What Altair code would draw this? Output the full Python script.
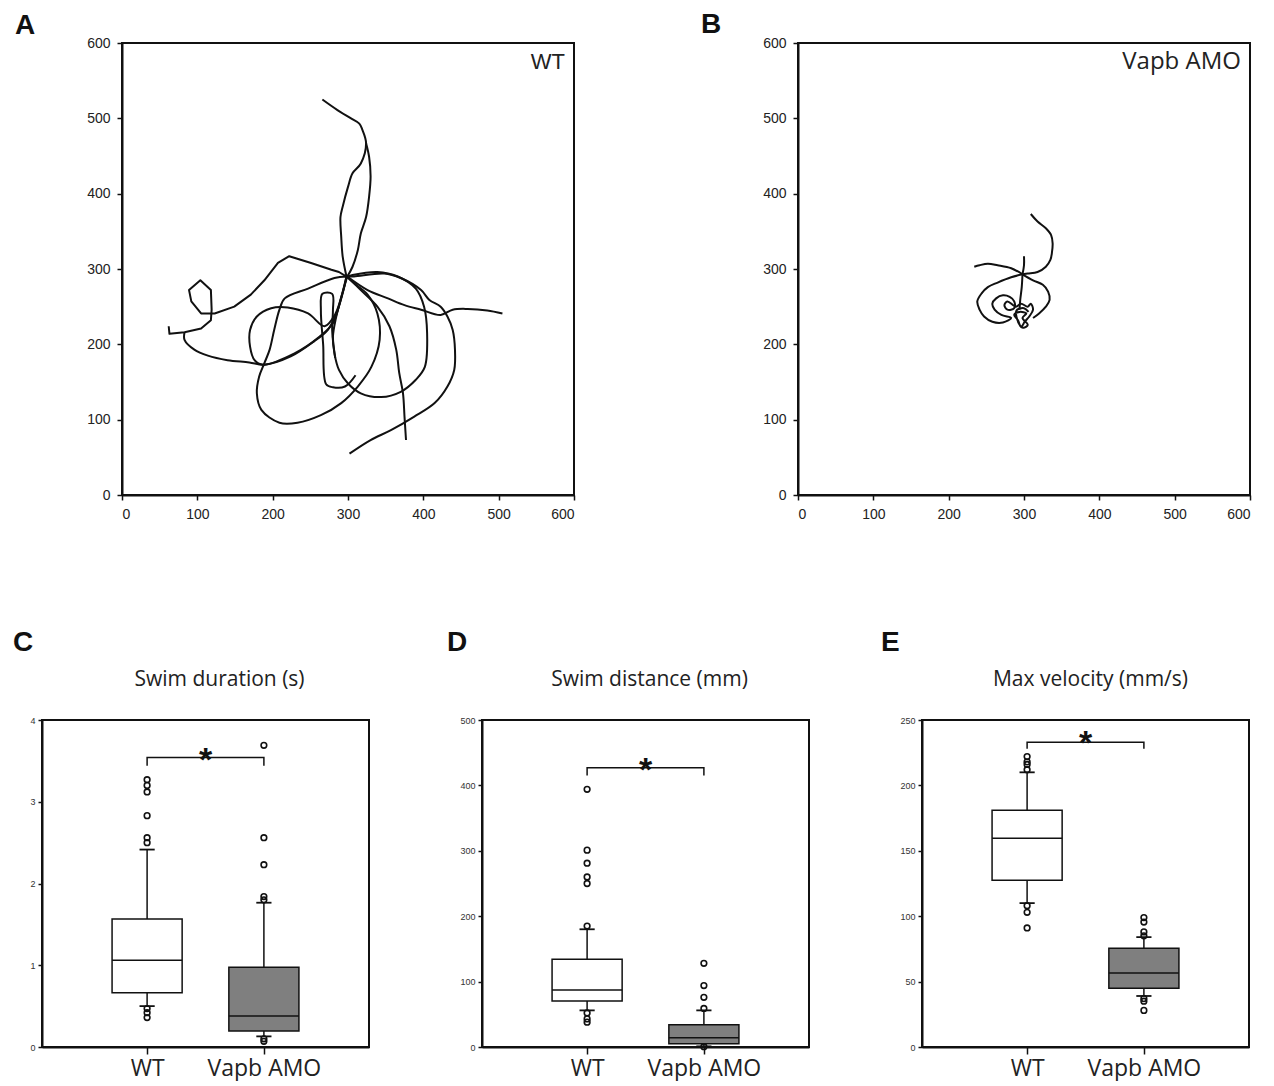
import altair as alt
import pandas as pd

# ---------------- Panel A : WT swim tracks (arena units) ----------------
a_north_left = [(266, 525), (286, 511), (304, 500), (315, 493), (319, 485), (324, 467), (317, 440),
                (306, 427), (300, 409), (293, 383), (290, 369), (291, 343), (293, 316), (298, 290)]
a_north_right = [(324, 467), (328, 449), (330, 423), (328, 396), (324, 369), (317, 347), (313, 325),
                 (306, 303), (299, 290)]
a_west_hex = [(298, 290), (288, 296), (278, 299), (251, 308), (222, 317), (207, 308), (189, 285),
              (171, 266), (149, 250), (123, 241), (105, 241), (92, 257), (89, 272), (104, 285),
              (118, 272), (119, 246), (118, 232), (105, 221), (83, 216), (63, 214), (62, 224)]
a_southwest = [(83, 216), (83, 206), (96, 193), (114, 185), (140, 179), (169, 176), (189, 173),
               (224, 184), (255, 204), (273, 219), (284, 239), (293, 268), (298, 290)]
a_small_loop = [(298, 290), (292, 266), (283, 240), (269, 224), (247, 241), (220, 249), (198, 248),
                (179, 237), (170, 219), (170, 197), (176, 179), (187, 173), (229, 188), (262, 210),
                (280, 228), (289, 255), (298, 290)]
a_big_lower_loop = [(298, 290), (282, 288), (247, 274), (216, 261), (209, 246), (202, 219), (196, 193),
                    (189, 175), (182, 157), (179, 135), (185, 113), (209, 96), (233, 96), (264, 106),
                    (291, 122), (313, 144), (331, 170), (342, 206), (339, 241), (326, 266), (308, 281),
                    (298, 290)]
a_narrow_loop = [(310, 159), (296, 144), (280, 143), (271, 147), (267, 200), (264, 245), (266, 267),
                 (279, 267), (280, 245), (279, 218), (283, 182)]
a_right_mid = [(299, 290), (306, 292), (339, 296), (366, 290), (390, 274), (401, 250), (405, 215),
               (402, 170), (390, 153), (370, 137), (344, 130), (317, 135), (300, 148), (288, 166),
               (282, 188), (280, 210), (284, 235), (291, 262), (299, 290)]
a_right_outer = [(299, 290), (308, 290), (348, 294), (370, 288), (397, 272), (408, 259), (423, 250),
                 (432, 237), (439, 219), (442, 193), (441, 166), (432, 144), (415, 122), (388, 104),
                 (357, 86), (330, 73), (302, 55)]
a_east = [(299, 290), (326, 272), (353, 261), (375, 252), (397, 246), (423, 239), (439, 246),
          (459, 247), (485, 245), (505, 241)]
a_south = [(299, 290), (317, 272), (339, 250), (355, 224), (364, 193), (368, 162), (373, 135),
           (375, 104), (377, 73)]

a_smooth = {"north_left": a_north_left, "north_right": a_north_right, "southwest": a_southwest,
            "small_loop": a_small_loop, "big_lower_loop": a_big_lower_loop,
            "narrow_loop": a_narrow_loop, "right_mid": a_right_mid, "right_outer": a_right_outer,
            "east": a_east, "south": a_south}
a_angular = {"west_hex": a_west_hex}

# ---------------- Panel B : Vapb AMO swim tracks ----------------
b_top = [(309, 373), (318, 363), (329, 354), (336, 345), (338, 334), (337, 321), (335, 312),
         (329, 303), (318, 296), (305, 294), (298, 293)]
b_left = [(298, 293), (283, 301), (265, 305), (252, 307), (241, 305), (234, 303)]
b_stub = [(298, 293), (300, 305), (300, 317)]
b_spiral = [(298, 293), (283, 289), (265, 282), (252, 276), (244, 268), (238, 257), (241, 246),
            (247, 237), (258, 230), (272, 229), (283, 235), (270, 239), (261, 246), (258, 254),
            (263, 261), (272, 265), (281, 263), (287, 257), (287, 248), (278, 246), (274, 252),
            (278, 257), (289, 250), (296, 254), (305, 250), (309, 254), (312, 246), (307, 237),
            (301, 230), (296, 223), (292, 232), (287, 239), (294, 243), (303, 241), (298, 235),
            (305, 226), (299, 222), (293, 228), (290, 245), (300, 248), (306, 243)]
b_right = [(298, 293), (312, 285), (325, 279), (332, 270), (334, 259), (329, 250), (320, 241),
           (312, 235)]
b_down = [(298, 293), (297, 276), (295, 259), (294, 246)]
b_tracks = {"top": b_top, "left": b_left, "stub": b_stub, "spiral": b_spiral,
            "right": b_right, "down": b_down}

# ---------------- Panels C-E : box plot summaries ----------------
groups = ["WT", "Vapb AMO"]
group_pos = [1, 2]
group_fill = ["white", "#7f7f7f"]

dur_lower = [0.50, 0.13]
dur_q1 = [0.665, 0.195]
dur_median = [1.06, 0.38]
dur_q3 = [1.565, 0.975]
dur_upper = [2.415, 1.765]
dur_out_wt = [2.50, 2.56, 2.83, 3.12, 3.20, 3.27, 0.47, 0.42, 0.36]
dur_out_amo = [1.80, 1.84, 2.23, 2.56, 3.69, 0.10, 0.07]
dur_bracket = [3.44, 3.54]
dur_star = 3.62

dist_lower = [56, 1]
dist_q1 = [70.5, 5]
dist_median = [87, 14]
dist_q3 = [134, 34]
dist_upper = [180, 56]
dist_out_wt = [185, 250, 260, 281, 301, 394, 52, 43, 38]
dist_out_amo = [59, 76, 94, 128, 0.5]
dist_bracket = [415, 427]
dist_star = 438

vel_lower = [110, 39]
vel_q1 = [127.5, 45]
vel_median = [159.5, 56.5]
vel_q3 = [181, 75.5]
vel_upper = [210, 84]
vel_out_wt = [212, 216, 218, 222, 108, 103, 91]
vel_out_amo = [85, 88, 95.5, 99, 37, 35, 28]
vel_bracket = [228, 233]
vel_star = 239.5

INK = "#111111"
HUM = "Open Sans"
ARIAL = "Liberation Sans"
BOX_W = 327
BOX_H = 327


def tracks_df(strokes):
    rows = []
    for name, pts in strokes.items():
        for i, (x, y) in enumerate(pts):
            rows.append({"seg": name, "i": i, "x": x, "y": y})
    return pd.DataFrame(rows)


def letter_layer(letter, dx, dy):
    return alt.Chart(pd.DataFrame({"t": [letter]})).mark_text(
        align="left", baseline="alphabetic", font=ARIAL, fontWeight="bold", fontSize=28, color=INK
    ).encode(x=alt.value(dx), y=alt.value(dy), text="t:N")


def track_panel(smooth, angular, label, label_font, label_size, letter, ldx, ldy):
    sx = alt.Scale(domain=[0, 600], nice=False, zero=False)
    sy = alt.Scale(domain=[0, 600], nice=False, zero=False)
    ax = alt.Axis(values=list(range(0, 601, 100)), tickSize=5, labelFontSize=14, labelPadding=7,
                  grid=False, title=None, labelFont=ARIAL, labelColor="#222")
    ay = alt.Axis(values=list(range(0, 601, 100)), tickSize=5, labelFontSize=14, labelPadding=7,
                  grid=False, title=None, labelFont=ARIAL, labelColor="#222")
    layers = []
    for strokes, interp in ((smooth, "catmull-rom"), (angular, "linear")):
        if not strokes:
            continue
        layers.append(alt.Chart(tracks_df(strokes)).mark_line(
            color=INK, strokeWidth=2, interpolate=interp, strokeJoin="round").encode(
            x=alt.X("x:Q", scale=sx, axis=ax, title=None),
            y=alt.Y("y:Q", scale=sy, axis=ay, title=None),
            detail="seg:N", order="i:Q"))
    lab = alt.Chart(pd.DataFrame({"x": [588], "y": [575], "t": [label]})).mark_text(
        align="right", baseline="middle", font=label_font, fontSize=label_size, color="#222"
    ).encode(x=alt.X("x:Q", scale=sx, axis=ax, title=None),
             y=alt.Y("y:Q", scale=sy, axis=ay, title=None), text="t:N")
    layers.append(lab)
    layers.append(letter_layer(letter, ldx, ldy))
    return alt.layer(*layers).properties(width=452, height=452)


HALF = 0.3
CAP = 0.065


def box_panel(title, title_dx, letter, ldx, ymax, ystep, lower, q1, med, q3, upper,
              out_wt, out_amo, bracket, star_y):
    sx = alt.Scale(domain=[0.1, 2.9], nice=False, zero=False)
    sy = alt.Scale(domain=[0, ymax], nice=False, zero=False)
    ax = alt.Axis(values=group_pos, labelExpr="datum.value == 1 ? 'WT' : 'Vapb AMO'",
                  labelFont=HUM, labelFontSize=23, labelColor="#222", tickSize=7, labelPadding=3,
                  grid=False, title=None)
    ay = alt.Axis(values=list(range(0, ymax + 1, ystep)), labelFont=ARIAL, labelFontSize=9,
                  labelColor="#333", tickSize=4, labelPadding=3, grid=False, title=None)

    def X(f):
        return alt.X(f, type="quantitative", scale=sx, axis=ax, title=None)

    def Y(f):
        return alt.Y(f, type="quantitative", scale=sy, axis=ay, title=None)

    stats = pd.DataFrame({"g": groups, "pos": group_pos, "fill": group_fill, "lo": lower,
                          "q1": q1, "med": med, "q3": q3, "hi": upper})
    stats["left"] = stats["pos"] - HALF
    stats["right"] = stats["pos"] + HALF
    stats["cl"] = stats["pos"] - CAP
    stats["cr"] = stats["pos"] + CAP
    base = alt.Chart(stats)
    w_lo = base.mark_rule(color=INK, strokeWidth=1.5).encode(x=X("pos"), y=Y("lo"), y2="q1")
    w_hi = base.mark_rule(color=INK, strokeWidth=1.5).encode(x=X("pos"), y=Y("q3"), y2="hi")
    cap_lo = base.mark_rule(color=INK, strokeWidth=1.8).encode(x=X("cl"), x2="cr", y=Y("lo"))
    cap_hi = base.mark_rule(color=INK, strokeWidth=1.8).encode(x=X("cl"), x2="cr", y=Y("hi"))
    box = base.mark_rect(stroke=INK, strokeWidth=1.5).encode(
        x=X("left"), x2="right", y=Y("q1"), y2="q3", fill=alt.Fill("fill:N", scale=None))
    median = base.mark_rule(color=INK, strokeWidth=1.5).encode(x=X("left"), x2="right", y=Y("med"))

    outs = pd.DataFrame({"pos": [1] * len(out_wt) + [2] * len(out_amo), "v": out_wt + out_amo})
    pts = alt.Chart(outs).mark_point(shape="circle", filled=False, size=32, strokeWidth=1.6,
                                     color=INK, opacity=1).encode(x=X("pos"), y=Y("v"))

    br = pd.DataFrame({"pos": [1, 1, 2, 2], "v": [bracket[0], bracket[1], bracket[1], bracket[0]],
                       "o": [0, 1, 2, 3]})
    bracket_line = alt.Chart(br).mark_line(color=INK, strokeWidth=1.5).encode(
        x=X("pos"), y=Y("v"), order="o:Q")
    star = alt.Chart(pd.DataFrame({"pos": [1.5], "v": [star_y], "t": ["*"]})).mark_text(
        font=ARIAL, fontSize=34, fontWeight="bold", baseline="alphabetic", dy=20, color=INK).encode(
        x=X("pos"), y=Y("v"), text="t:N")

    heading = alt.Chart(pd.DataFrame({"t": [title]})).mark_text(
        font=HUM, fontSize=21, color="#222", align="center", baseline="alphabetic"
    ).encode(x=alt.value(BOX_W / 2 + title_dx), y=alt.value(-34), text="t:N")

    return alt.layer(w_lo, w_hi, box, median, cap_lo, cap_hi, pts, bracket_line, star,
                     heading).properties(
        width=BOX_W, height=BOX_H,
        title=alt.TitleParams(letter, font=ARIAL, fontSize=28, fontWeight="bold", color=INK,
                              anchor="start", frame="group", dx=ldx, offset=-10,
                              baseline="alphabetic"))


def spacer(w, h):
    return alt.Chart(pd.DataFrame({"v": [0]})).mark_point(opacity=0).encode(
        x=alt.X("v:Q", axis=None), y=alt.Y("v:Q", axis=None)
    ).properties(width=w, height=h, view=alt.ViewBackground(stroke="transparent"))


panel_a = track_panel(a_smooth, a_angular, "WT", ARIAL, 22, "A", -107, -9)
panel_b = track_panel(b_tracks, {}, "Vapb AMO", HUM, 24, "B", -97, -10)

panel_c = box_panel("Swim duration (s)", 14, "C", -29, 4, 1, dur_lower, dur_q1, dur_median, dur_q3,
                    dur_upper, dur_out_wt, dur_out_amo, dur_bracket, dur_star)
panel_d = box_panel("Swim distance (mm)", 4, "D", -35, 500, 100, dist_lower, dist_q1, dist_median,
                    dist_q3, dist_upper, dist_out_wt, dist_out_amo, dist_bracket, dist_star)
panel_e = box_panel("Max velocity (mm/s)", 5, "E", -41, 250, 50, vel_lower, vel_q1, vel_median,
                    vel_q3, vel_upper, vel_out_wt, vel_out_amo, vel_bracket, vel_star)

top_row = alt.hconcat(spacer(80, 452), panel_a, spacer(224, 452), panel_b, spacing=0,
                      bounds="flush")
bottom_row = alt.hconcat(panel_c, panel_d, panel_e, spacing=113, bounds="flush")

chart = alt.vconcat(top_row, bottom_row, spacing=106).properties(
    padding={"left": 4, "top": 2, "right": 0, "bottom": 0}, background="white"
).configure_view(stroke=INK, strokeWidth=2).configure_axis(
    domainColor=INK, domainWidth=2, tickColor=INK, tickWidth=1.5, grid=False
)

chart.save("out.html", embed_options={"renderer": "svg", "actions": False})
